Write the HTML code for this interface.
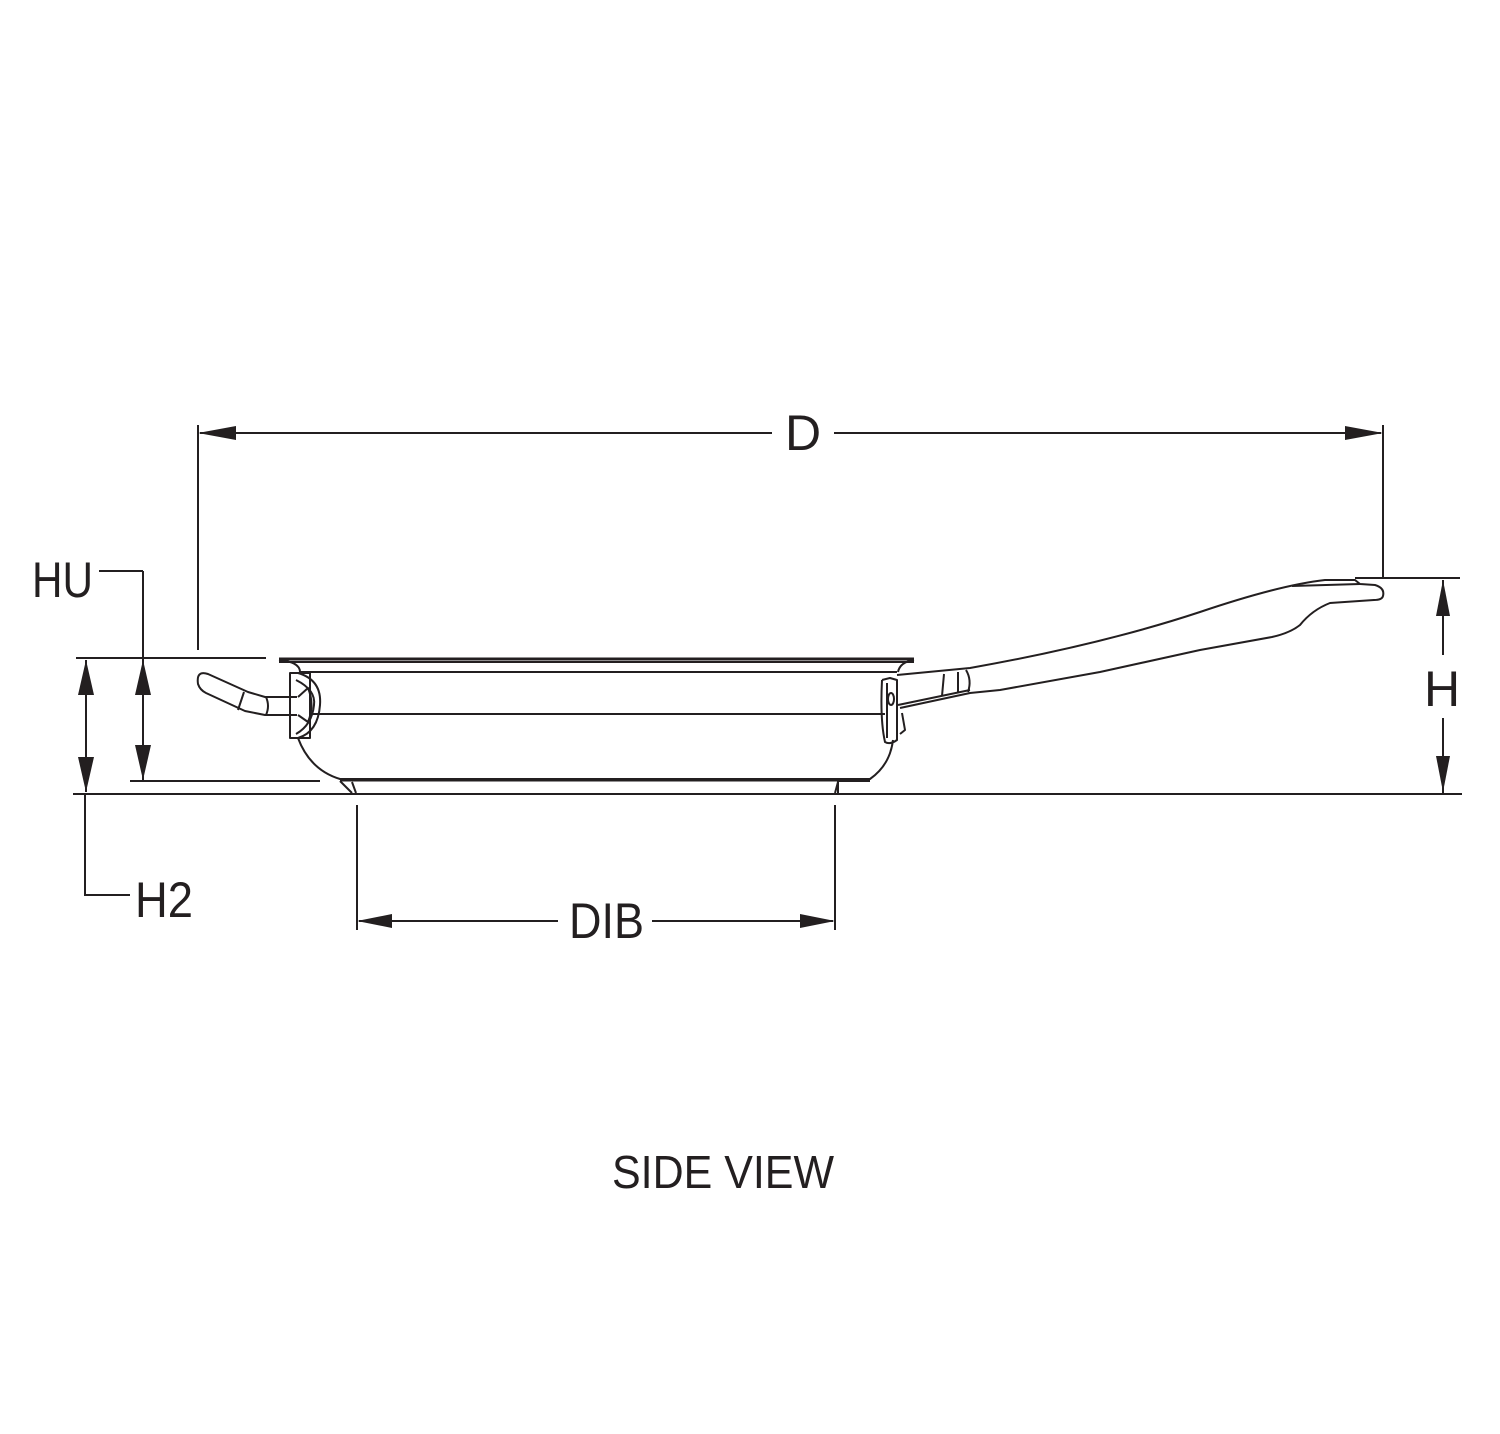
<!DOCTYPE html>
<html><head><meta charset="utf-8"><style>html,body{margin:0;padding:0;background:#fff}svg{display:block}</style></head>
<body>
<svg width="1500" height="1434" viewBox="0 0 1500 1434" xmlns="http://www.w3.org/2000/svg">
<defs>
<marker id="a" viewBox="0 0 12 12" refX="12" refY="6" markerWidth="12" markerHeight="12" markerUnits="userSpaceOnUse" orient="auto"></marker>
</defs>
<g stroke="#231f20" stroke-width="2" fill="none">
<!-- D dimension -->
<line x1="198" y1="425" x2="198" y2="650"/>
<line x1="1383" y1="425" x2="1383" y2="578"/>
<line x1="200" y1="433" x2="772" y2="433"/>
<line x1="834" y1="433" x2="1381" y2="433"/>
<!-- H dimension -->
<line x1="1355" y1="578" x2="1460" y2="578"/>
<line x1="1443" y1="580" x2="1443" y2="655"/>
<line x1="1443" y1="718" x2="1443" y2="793"/>
<!-- baseline -->
<line x1="73" y1="794" x2="1462" y2="794"/>
<!-- left dims -->
<line x1="76" y1="658" x2="266" y2="658"/>
<line x1="130" y1="781" x2="320" y2="781"/>
<line x1="86" y1="660" x2="86" y2="792"/>
<line x1="143" y1="571" x2="143" y2="780"/>
<polyline points="99,571 143,571"/>
<polyline points="85,794 85,895 130,895"/>
<!-- DIB -->
<line x1="357" y1="805" x2="357" y2="930"/>
<line x1="835" y1="805" x2="835" y2="930"/>
<line x1="359" y1="921" x2="558" y2="921"/>
<line x1="652" y1="921" x2="833" y2="921"/>
</g>
<g fill="#231f20">
<polygon points="198,433 236,426 236,440"/>
<polygon points="1383,433 1345,426 1345,440"/>
<polygon points="1443,580 1436,616 1450,616"/>
<polygon points="1443,792 1436,756 1450,756"/>
<polygon points="86,660 78,695 94,695"/>
<polygon points="86,792 78,757 94,757"/>
<polygon points="143,660 135,695 151,695"/>
<polygon points="143,780 135,745 151,745"/>
<polygon points="357,921 392,914 392,928"/>
<polygon points="835,921 800,914 800,928"/>
</g>
<g font-family="'Liberation Sans Narrow','Liberation Sans',sans-serif" fill="#231f20" font-size="50">
<text x="803" y="450" text-anchor="middle">D</text>
<text x="1442" y="706" text-anchor="middle">H</text>
<text x="32" y="597" textLength="61" lengthAdjust="spacingAndGlyphs">HU</text>
<text x="135" y="917" textLength="58" lengthAdjust="spacingAndGlyphs">H2</text>
<text x="569" y="938" textLength="75" lengthAdjust="spacingAndGlyphs">DIB</text>
<text x="612" y="1188" font-size="46" textLength="222" lengthAdjust="spacingAndGlyphs">SIDE VIEW</text>
</g>
<!-- pan -->
<g stroke="#231f20" stroke-width="2" fill="none" stroke-linejoin="round">
<line x1="279" y1="659" x2="914" y2="659" stroke-width="3"/>
<line x1="279" y1="662" x2="914" y2="662"/>
<path d="M279,660 Q300,662 300,672"/>
<path d="M914,660 Q900,662 898,672"/>
<line x1="300" y1="672" x2="897" y2="672"/>
<line x1="310" y1="714" x2="885" y2="714"/>
<path d="M298,738 Q310,770 340,779 L870,779 Q890,765 893,740"/>
<path d="M340,781 L352,793 M870,781 L838,781 L838,793"/>
<line x1="340" y1="780" x2="870" y2="780" stroke-width="3"/>
<path d="M352,782 L356,793 M838,782 L835,793"/>
<!-- left handle -->
<path d="M297,697 L265,697 L248,692 L208,674 Q196,670 198,684 Q200,690 206,693 L245,711 L265,715 L297,715"/>
<path d="M244,692 L238,710 M266,697 Q270,706 266,715"/>
<rect x="290" y="673" width="20" height="65"/>
<path d="M298,673 Q322,680 320,705 Q318,732 298,738"/>
<path d="M296,680 Q316,690 314,705 Q312,725 296,734"/>
<path d="M298,697 L308,688 Q315,705 308,722 L298,715"/>
<!-- right handle -->
<path d="M897,675 L970,668 Q1100,645 1200,612 Q1280,585 1325,580 L1355,580 L1360,584 L1375,585 Q1385,588 1383,596 Q1382,600 1374,600 L1330,603 Q1312,610 1300,625 Q1290,633 1272,637 L1200,650 L1100,672 L1000,690 L970,693 L900,708"/>
<line x1="1292" y1="586" x2="1360" y2="584"/>
<path d="M882,680 L890,678 L897,680 L897,740 Q890,745 885,742 Q880,720 882,680"/>
<path d="M887,683 L887,738"/>
<ellipse cx="891" cy="699" rx="3" ry="6"/>
<path d="M902,713 L905,730 L900,734"/>
<path d="M944,674 L942,696 M958,672 L958,693 M966,670 Q972,680 968,692"/>
<path d="M898,705 L970,690"/>
</g>
</svg>
</body></html>
